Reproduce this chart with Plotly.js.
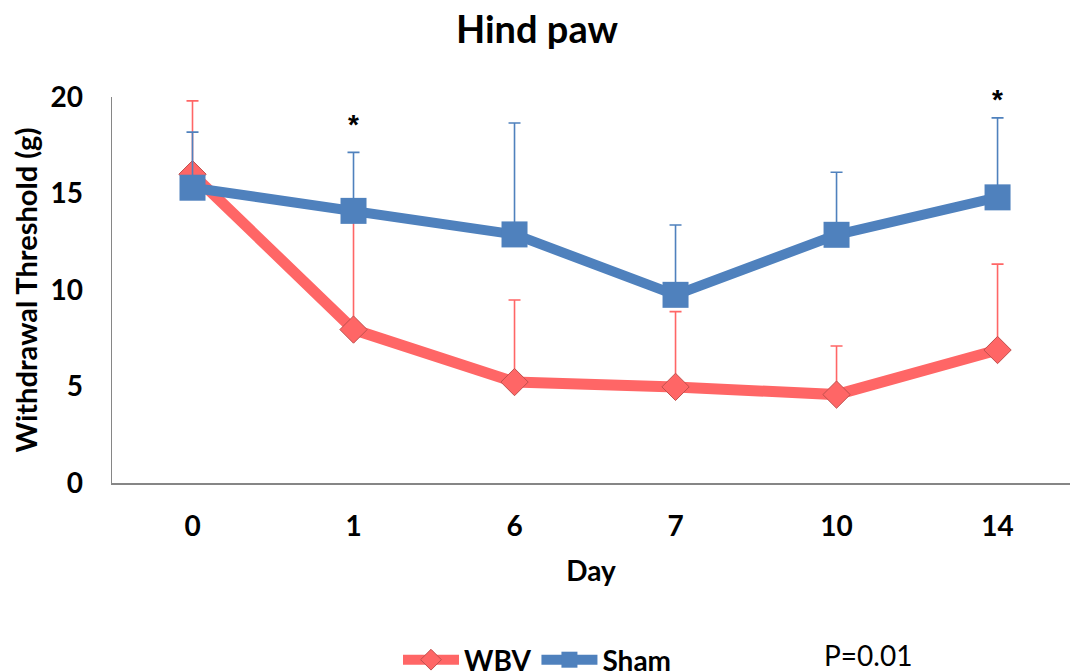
<!DOCTYPE html>
<html>
<head>
<meta charset="utf-8">
<script src="https://cdn.plot.ly/plotly-3.0.1.min.js"></script>
<style>html,body{margin:0;padding:0;overflow:hidden;background:#fff}#chart{width:1070px;height:672px}</style>
</head>
<body>
<div id="chart"></div>
<script>
var days = ['0', '1', '6', '7', '10', '14'];
var wbvMean = [16.0, 7.95, 5.23, 4.98, 4.58, 6.89];
var wbvErr = [3.8, 6.0, 4.25, 3.9, 2.52, 4.45];
var shamMean = [15.3, 14.1, 12.88, 9.75, 12.86, 14.8];
var shamErr = [2.88, 3.03, 5.77, 3.62, 3.24, 4.12];
var yTicks = [0, 5, 10, 15, 20];
var sigDays = ['1', '14'];
var sigHeights = [18.6, 19.85];

var FONT = 'Lato, "Open Sans", sans-serif';
var RED = '#FF6666';
var BLUE = '#4F81BD';

var traces = [
  {
    x: days, y: wbvMean, name: 'WBV', type: 'scatter', mode: 'lines+markers',
    line: {color: RED, width: 11},
    marker: {symbol: 'diamond', size: 21, color: RED, line: {color: '#C0504D', width: 1}},
    error_y: {type: 'data', array: wbvErr, arrayminus: wbvErr.map(function(){return 0;}), symmetric: false, color: RED, thickness: 1.6, width: 6}
  },
  {
    x: days, y: shamMean, name: 'Sham', type: 'scatter', mode: 'lines+markers',
    line: {color: BLUE, width: 10},
    marker: {symbol: 'square', size: 26, color: BLUE},
    error_y: {type: 'data', array: shamErr, arrayminus: shamErr.map(function(){return 0;}), symmetric: false, color: BLUE, thickness: 1.6, width: 6}
  }
];

var annotations = sigDays.map(function(d, i) {
  return {x: days.indexOf(d), y: sigHeights[i], xref: 'x', yref: 'y', text: '<b>*</b>', showarrow: false,
    font: {family: '"Liberation Sans", sans-serif', size: 28, color: '#000'}, yanchor: 'middle', xanchor: 'center'};
});
annotations.push({
  x: (822 - 112) / 958, y: (483 - 655) / 386, xref: 'paper', yref: 'paper',
  xanchor: 'left', yanchor: 'middle', text: 'P=0.01', showarrow: false,
  font: {family: FONT, size: 28, color: '#000'}
});

var layout = {
  width: 1070, height: 672,
  margin: {l: 112, r: 0, t: 97, b: 189},
  paper_bgcolor: '#fff', plot_bgcolor: '#fff',
  showlegend: true,
  title: {text: '<b>Hind paw</b>', font: {family: FONT, size: 38, color: '#000'},
    x: 537 / 1070, xref: 'container', xanchor: 'center', y: 1 - 30 / 672, yref: 'container', yanchor: 'middle'},
  xaxis: {
    type: 'category', range: [-0.5, 5.45],
    showline: true, linecolor: '#868686', linewidth: 1.5, showgrid: false, zeroline: false,
    ticks: '', ticklabelstandoff: 18,
    tickfont: {family: FONT, size: 28, color: '#000', weight: 'bold'},
    title: {text: '<b>Day</b>', font: {family: FONT, size: 28, color: '#000'}, standoff: 20}
  },
  yaxis: {
    range: [0, 20], tickvals: yTicks, ticktext: yTicks.map(String),
    showline: true, linecolor: '#868686', linewidth: 1.5, showgrid: false, zeroline: false,
    ticks: '', ticklabelstandoff: 22,
    tickfont: {family: FONT, size: 28, color: '#000', weight: 'bold'},
    title: {text: '<b>Withdrawal Threshold (g)</b>', font: {family: FONT, size: 29, color: '#000'}, standoff: 4}
  },
  legend: {
    orientation: 'h', xref: 'container', yref: 'container',
    x: 398 / 1070, xanchor: 'left', y: (672 - 660) / 672, yanchor: 'middle',
    font: {family: FONT, size: 28, color: '#000', weight: 'bold'},
    itemwidth: 56, tracegroupgap: 0, bgcolor: 'rgba(0,0,0,0)'
  },
  annotations: annotations
};

Plotly.newPlot('chart', traces, layout, {displayModeBar: false, staticPlot: true});
</script>
</body>
</html>
